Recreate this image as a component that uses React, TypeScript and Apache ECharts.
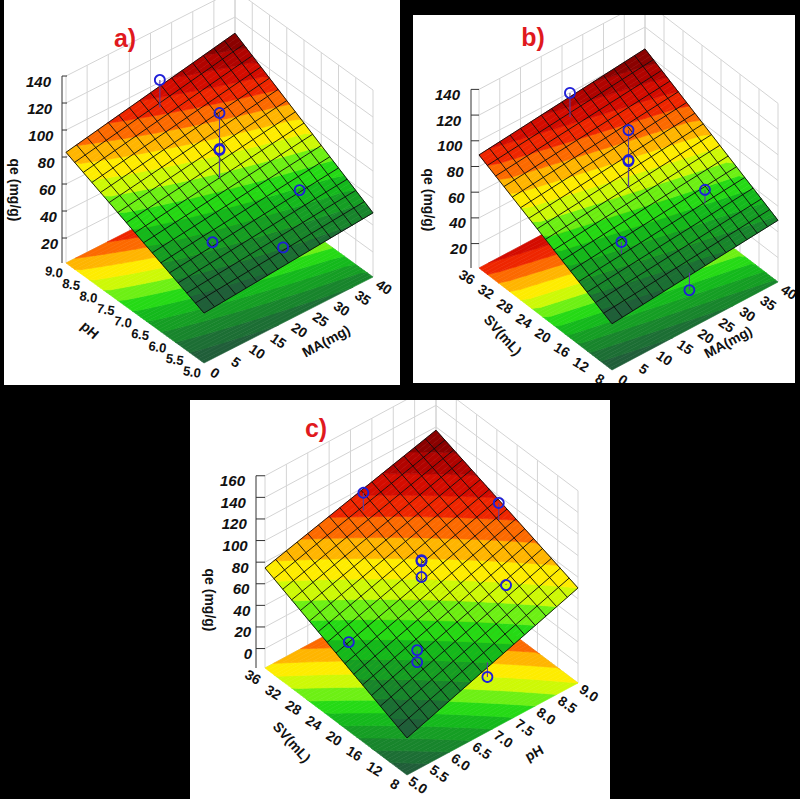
import React, { useEffect, useRef } from "react";
import * as echarts from "echarts";

// ---------------- data ----------------
const maTicks = [0, 5, 10, 15, 20, 25, 30, 35, 40];
const phTicks = [5.0, 5.5, 6.0, 6.5, 7.0, 7.5, 8.0, 8.5, 9.0];
const svTicks = [8, 12, 16, 20, 24, 28, 32, 36];
const qeTicksAB = [20, 40, 60, 80, 100, 120, 140];
const qeTicksC = [0, 20, 40, 60, 80, 100, 120, 140, 160];

// fitted response surface qe (mg/g) at the corners of each factor plane
// order: [x1 min & x2 min, x1 max & x2 min, x1 min & x2 max, x1 max & x2 max]
const surfaceA = [38.5, 49, 83.5, 108]; // x1 = MA, x2 = pH
const surfaceB = [37, 49, 89, 103]; // x1 = MA, x2 = SV
const surfaceC = [16.3, 70, 74.6, 117]; // x1 = pH, x2 = SV

// observed runs (blue circles)
const ptsA_MA = [19.6, 20, 20, 20, 30.8, 10.5, 21];
const ptsA_pH = [8.68, 7.0, 7.0, 7.0, 6.0, 6.04, 5.28];
const ptsA_qe = [111.8, 117.8, 90.4, 91.2, 62, 55, 48.5];

const ptsB_MA = [19.4, 20, 20, 20, 30.3, 10.4, 19];
const ptsB_SV = [33.8, 22, 22, 22, 14.9, 15.1, 8.3];
const ptsB_qe = [110.3, 113.8, 89.7, 90.5, 69.8, 62.7, 29.8];

const ptsC_pH = [7.04, 8.76, 7.0, 7.0, 7.0, 8.1, 5.3, 6.08, 6.08, 6.94];
const ptsC_SV = [33.8, 21.6, 22, 22, 22, 14.6, 22, 15.1, 15.1, 8.5];
const ptsC_qe = [108.6, 105.7, 88, 88.8, 73.2, 68.5, 49.1, 49.5, 38.4, 29.7];

// ---------------- layout / style ----------------
const FONT = "'Liberation Sans', Arial, Helvetica, sans-serif";
const STOPS: [number, number[]][] = [
  [0.0, [34, 86, 60]],
  [0.1, [28, 110, 52]],
  [0.2, [22, 145, 40]],
  [0.3, [20, 185, 28]],
  [0.38, [40, 225, 20]],
  [0.45, [130, 245, 20]],
  [0.52, [235, 250, 0]],
  [0.57, [255, 235, 0]],
  [0.62, [255, 195, 0]],
  [0.68, [255, 130, 0]],
  [0.75, [245, 45, 0]],
  [0.85, [205, 5, 0]],
  [1.0, [120, 0, 0]],
];
function grad(t: number) {
  t = Math.max(0, Math.min(1, t));
  for (let i = 0; i < STOPS.length - 1; i++) {
    const [t0, c0] = STOPS[i];
    const [t1, c1] = STOPS[i + 1];
    if (t <= t1) {
      const f = (t - t0) / (t1 - t0);
      const c = c0.map((x, j) => Math.round(x + (c1[j] - x) * f));
      return `rgb(${c[0]},${c[1]},${c[2]})`;
    }
  }
  return "rgb(120,0,0)";
}

const layouts: any = {
  a: {
    box: [4, 0, 396, 385], F: [204, 363], U: [169, -86], V: [-138, -100], k: 1.35, zmin: 1.5, zmax: 140, axisDx: -4,
    vTickRot: -0.15, uTickRot: -0.61, vTickSize: 13,
    title: [125, 38], uTitle: [326, 341, 0.5], vTitle: [90, 330, -0.72], zTitle: [15, 190],
  },
  b: {
    box: [413, 15, 382, 368], F: [612, 370], U: [166, -88], V: [-133, -102], k: 1.285, zmin: 1, zmax: 140, axisDx: -8,
    vTickRot: -0.55, uTickRot: -0.61, vTickSize: 14,
    title: [533, 37], uTitle: [728, 342, 0.5], vTitle: [503, 335, -0.85], zTitle: [429, 200],
  },
  c: {
    box: [190, 400, 420, 399], F: [407, 775], U: [171, -92], V: [-142, -107], k: 1.08, zmin: -18, zmax: 160, axisDx: -9,
    vTickRot: -0.55, uTickRot: -0.61, vTickSize: 14,
    title: [316, 428], uTitle: [534, 753, 0.5], vTitle: [292, 742, -0.85], zTitle: [210, 600],
  },
};

const panels = [
  { key: "a", label: "a)", uName: "MA(mg)", vName: "pH", uDom: [0, 40], vDom: [5, 9], uTicks: maTicks, vTicks: phTicks, uDec: 0, vDec: 1, zTicks: qeTicksAB, surface: surfaceA, pu: ptsA_MA, pv: ptsA_pH, pq: ptsA_qe },
  { key: "b", label: "b)", uName: "MA(mg)", vName: "SV(mL)", uDom: [0, 40], vDom: [8, 36], uTicks: maTicks, vTicks: svTicks, uDec: 0, vDec: 0, zTicks: qeTicksAB, surface: surfaceB, pu: ptsB_MA, pv: ptsB_SV, pq: ptsB_qe },
  { key: "c", label: "c)", uName: "pH", vName: "SV(mL)", uDom: [5, 9], vDom: [8, 36], uTicks: phTicks, vTicks: svTicks, uDec: 1, vDec: 0, zTicks: qeTicksC, surface: surfaceC, pu: ptsC_pH, pv: ptsC_SV, pq: ptsC_qe },
];

function customSeries(gi: number, box: number[], z: number, items: any[], render: (it: any, api: any) => any) {
  const ax = box[0] + box[2] / 2;
  const ay = box[1] + box[3] / 2;
  return {
    type: "custom",
    coordinateSystem: "cartesian2d",
    xAxisIndex: gi,
    yAxisIndex: gi,
    z,
    silent: true,
    clip: true,
    animation: false,
    data: items.map(() => [ax, ay]),
    renderItem: (params: any, api: any) => render(items[params.dataIndex], api),
  };
}

function buildPanel(pn: any, gi: number) {
  const L = layouts[pn.key];
  const [s00, s10, s01, s11] = pn.surface;
  const S = (u: number, v: number) => s00 * (1 - u) * (1 - v) + s10 * u * (1 - v) + s01 * (1 - u) * v + s11 * u * v;
  const P = (u: number, v: number, z: number) => [
    L.F[0] + u * L.U[0] + v * L.V[0],
    L.F[1] + u * L.U[1] + v * L.V[1] - (z - L.zmin) * L.k,
  ];
  const nu = (x: number) => (x - pn.uDom[0]) / (pn.uDom[1] - pn.uDom[0]);
  const nv = (x: number) => (x - pn.vDom[0]) / (pn.vDom[1] - pn.vDom[0]);
  const qmin = Math.min(...pn.surface);
  const qmax = Math.max(...pn.surface);
  const NB = 15;
  const clamp = (x: number) => Math.max(0, Math.min(1, x));
  const interval = (v: number, k: number) => {
    const a = S(0, v);
    const b = S(1, v) - a;
    const lo = k === 0 ? -1e9 : qmin + ((qmax - qmin) * k) / NB;
    const hi = k === NB - 1 ? 1e9 : qmin + ((qmax - qmin) * (k + 1)) / NB;
    if (Math.abs(b) < 1e-9) return a >= lo && a < hi ? [0, 1] : [0, 0];
    let x0 = (lo - a) / b;
    let x1 = (hi - a) / b;
    if (x0 > x1) [x0, x1] = [x1, x0];
    return [clamp(x0), clamp(x1)];
  };

  const floorPolys: any[] = [];
  const surfPolys: any[] = [];
  const NR = 48;
  for (let j = 0; j < NR; j++) {
    const v0 = j / NR;
    const v1 = (j + 1) / NR;
    for (let k = 0; k < NB; k++) {
      const [a0, b0] = interval(v0, k);
      const [a1, b1] = interval(v1, k);
      if (b0 - a0 < 1e-7 && b1 - a1 < 1e-7) continue;
      const quad = [[a0, v0], [b0, v0], [b1, v1], [a1, v1]];
      const fill = grad((k + 0.5) / NB);
      floorPolys.push({ pts: quad.map(([u, v]) => P(u, v, L.zmin)), fill });
      surfPolys.push({ pts: quad.map(([u, v]) => P(u, v, S(u, v))), fill });
    }
  }

  // back walls
  const wall: any[] = [];
  const WC = "#d4d4d4";
  pn.uTicks.forEach((t: number) => wall.push({ a: P(nu(t), 1, L.zmin), b: P(nu(t), 1, L.zmax), c: WC, w: 1 }));
  pn.vTicks.forEach((t: number) => wall.push({ a: P(1, nv(t), L.zmin), b: P(1, nv(t), L.zmax), c: WC, w: 1 }));
  const zLines = pn.zTicks.filter((z: number) => z > L.zmin && z < L.zmax).concat([L.zmin, L.zmax]);
  zLines.forEach((z: number) => {
    wall.push({ a: P(0, 1, z), b: P(1, 1, z), c: WC, w: 1 });
    wall.push({ a: P(1, 1, z), b: P(1, 0, z), c: WC, w: 1 });
  });

  // z axis
  const axis: any[] = [];
  const corner = P(0, 1, L.zmin);
  const axX = corner[0] + L.axisDx;
  const zy = (z: number) => P(0, 1, z)[1];
  axis.push({ a: [axX, zy(L.zmin)], b: [axX, zy(L.zmax)], c: "#333", w: 1 });
  const zt = pn.zTicks.filter((z: number) => z >= L.zmin && z <= L.zmax);
  zt.forEach((z: number) => axis.push({ a: [axX, zy(z)], b: [axX + Math.max(5, -L.axisDx), zy(z)], c: "#333", w: 1 }));

  // surface mesh
  const G = 16;
  const mesh: any[] = [];
  for (let i = 0; i <= G; i++) {
    const t = i / G;
    mesh.push({ a: P(t, 0, S(t, 0)), b: P(t, 1, S(t, 1)), c: "rgba(12,12,12,0.9)", w: 1 });
    mesh.push({ a: P(0, t, S(0, t)), b: P(1, t, S(1, t)), c: "rgba(12,12,12,0.9)", w: 1 });
  }

  // observed points and residual lines
  const resid: any[] = [];
  const circles: any[] = [];
  pn.pu.forEach((x: number, i: number) => {
    const u = nu(x);
    const v = nv(pn.pv[i]);
    const q = pn.pq[i];
    const p = P(u, v, q);
    resid.push({ a: p, b: P(u, v, S(u, v)), c: "#5a3ea0", w: 1.1 });
    circles.push({ p });
  });

  // texts
  const texts: any[] = [];
  const tickFont = `bold 14px ${FONT}`;
  pn.uTicks.forEach((t: number) => {
    const p = P(nu(t), 0, L.zmin);
    texts.push({ x: p[0] + 11, y: p[1] + 10, text: t.toFixed(pn.uDec), rot: L.uTickRot, font: tickFont, fill: "#111", align: "center" });
  });
  pn.vTicks.forEach((t: number) => {
    const p = P(0, nv(t), L.zmin);
    texts.push({ x: p[0] - 12, y: p[1] + 9, text: t.toFixed(pn.vDec), rot: L.vTickRot, font: `bold ${L.vTickSize}px ${FONT}`, fill: "#111", align: "center" });
  });
  const zmaxT = zt[zt.length - 1];
  const zminT = zt[0];
  zt.forEach((z: number) => {
    const f = (z - zminT) / (zmaxT - zminT);
    texts.push({ x: axX - (4 + 7 * f), y: zy(z) + 5, text: String(z), rot: 0, font: `italic bold 15px ${FONT}`, fill: "#111", align: "right" });
  });
  texts.push({ x: L.uTitle[0], y: L.uTitle[1], text: pn.uName, rot: L.uTitle[2], font: `bold 14px ${FONT}`, fill: "#111", align: "center" });
  texts.push({ x: L.vTitle[0], y: L.vTitle[1], text: pn.vName, rot: L.vTitle[2], font: `bold 14px ${FONT}`, fill: "#111", align: "center" });
  texts.push({ x: L.zTitle[0], y: L.zTitle[1], text: "qe (mg/g)", rot: -Math.PI / 2, font: `bold 14px ${FONT}`, fill: "#111", align: "center" });
  texts.push({ x: L.title[0], y: L.title[1], text: pn.label, rot: 0, font: `bold 25px ${FONT}`, fill: "#e0191e", align: "center" });

  const lineR = (it: any, api: any) => {
    const a = api.coord(it.a);
    const b = api.coord(it.b);
    return { type: "line", shape: { x1: a[0], y1: a[1], x2: b[0], y2: b[1] }, style: { stroke: it.c, lineWidth: it.w, fill: null } };
  };
  const polyR = (it: any, api: any) => ({
    type: "polygon",
    shape: { points: it.pts.map((p: number[]) => api.coord(p)) },
    style: { fill: it.fill, stroke: it.fill, lineWidth: 0.6 },
  });
  const circR = (it: any, api: any) => {
    const c = api.coord(it.p);
    return { type: "circle", shape: { cx: c[0], cy: c[1], r: 5 }, style: { fill: null, stroke: "#1f1fd8", lineWidth: 1.8 } };
  };
  const textR = (it: any, api: any) => {
    const c = api.coord([it.x, it.y]);
    return {
      type: "text",
      x: c[0],
      y: c[1],
      rotation: it.rot,
      style: { text: it.text, fill: it.fill, font: it.font, align: it.align, verticalAlign: "middle", textAlign: it.align, textVerticalAlign: "middle" },
    };
  };

  const box = L.box;
  return [
    customSeries(gi, box, 1, wall, lineR),
    customSeries(gi, box, 2, floorPolys, polyR),
    customSeries(gi, box, 3, axis, lineR),
    customSeries(gi, box, 4, surfPolys, polyR),
    customSeries(gi, box, 5, mesh, lineR),
    customSeries(gi, box, 6, resid, lineR),
    customSeries(gi, box, 7, circles, circR),
    customSeries(gi, box, 8, texts, textR),
  ];
}

export default function App() {
  const ref = useRef<HTMLDivElement>(null);
  useEffect(() => {
    if (!ref.current) return;
    const chart = echarts.init(ref.current, undefined, { renderer: "svg" });
    const option: any = {
      animation: false,
      backgroundColor: "#000",
      grid: panels.map((p) => {
        const b = layouts[p.key].box;
        return { left: b[0], top: b[1], width: b[2], height: b[3], show: true, backgroundColor: "#fff", borderWidth: 0 };
      }),
      xAxis: panels.map((p, i) => {
        const b = layouts[p.key].box;
        return { type: "value", gridIndex: i, min: b[0], max: b[0] + b[2], show: false, splitLine: { show: false } };
      }),
      yAxis: panels.map((p, i) => {
        const b = layouts[p.key].box;
        return { type: "value", gridIndex: i, min: b[1], max: b[1] + b[3], inverse: true, show: false, splitLine: { show: false } };
      }),
      series: panels.flatMap((p, i) => buildPanel(p, i)),
    };
    chart.setOption(option);
    return () => chart.dispose();
  }, []);
  return <div ref={ref} style={{ position: "absolute", left: 0, top: 0, width: 800, height: 799 }} />;
}
